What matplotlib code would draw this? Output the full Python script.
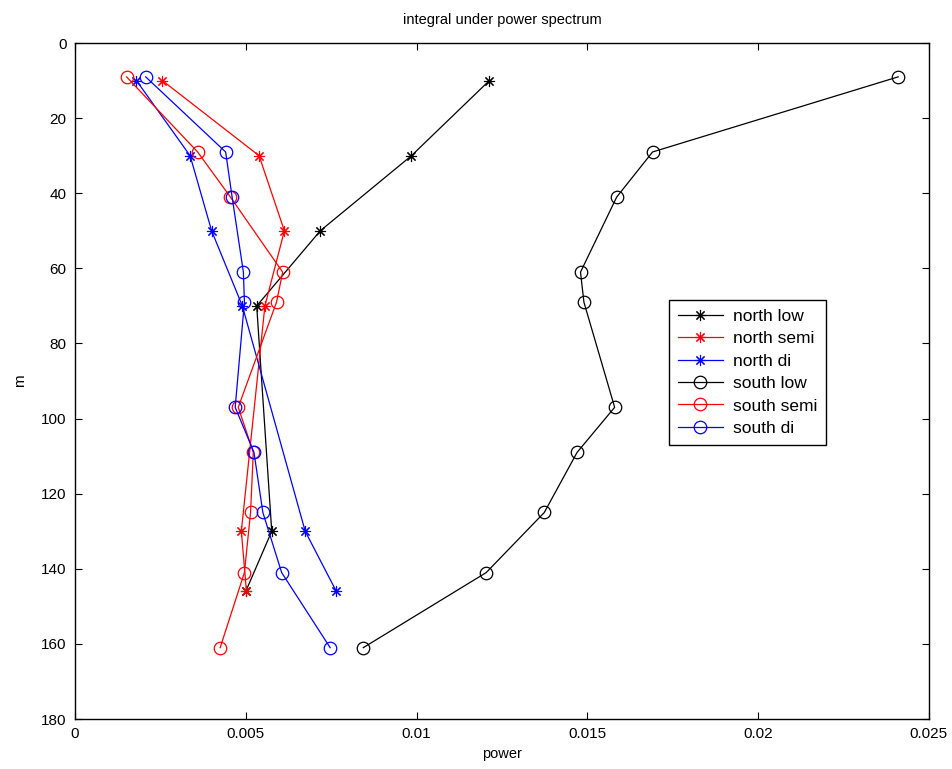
import matplotlib.pyplot as plt

plt.rcParams['font.family'] = ['Liberation Sans', 'DejaVu Sans']

# north stations
north_depth = [10, 30, 50, 70, 130, 146]
north_low = [0.01213, 0.00985, 0.00718, 0.00532, 0.00576, 0.00500]
north_semi = [0.00256, 0.00539, 0.00613, 0.00556, 0.00487, 0.00502]
north_di = [0.00180, 0.00337, 0.00400, 0.00490, 0.00674, 0.00765]

# south stations
south_depth = [9, 29, 41, 61, 69, 97, 109, 125, 141, 161]
south_low = [0.02410, 0.01691, 0.01586, 0.01480, 0.01490, 0.01580, 0.01470, 0.01374, 0.01204, 0.00844]
south_semi = [0.00151, 0.00359, 0.00455, 0.00608, 0.00590, 0.00478, 0.00522, 0.00514, 0.00496, 0.00425]
south_di = [0.00207, 0.00441, 0.00460, 0.00493, 0.00496, 0.00469, 0.00524, 0.00550, 0.00605, 0.00747]

x_ticks = [0, 0.005, 0.01, 0.015, 0.02, 0.025]
x_tick_labels = ['0', '0.005', '0.01', '0.015', '0.02', '0.025']
y_ticks = [0, 20, 40, 60, 80, 100, 120, 140, 160, 180]

star = (8, 2, 0)  # matlab style asterisk

fig = plt.figure(figsize=(9.53, 7.69), dpi=100)
ax = fig.add_axes([0.0787, 0.065, 0.896, 0.879])

ax.plot(north_low, north_depth, color='black', marker=star, ms=8, mew=0.8, lw=0.9, label='north low')
ax.plot(north_semi, north_depth, color='red', marker=star, ms=8, mew=0.8, lw=0.9, label='north semi')
ax.plot(north_di, north_depth, color='blue', marker=star, ms=8, mew=0.8, lw=0.9, label='north di')
ax.plot(south_low, south_depth, color='black', marker='o', ms=9, mfc='none', mew=0.9, lw=0.9, label='south low')
ax.plot(south_semi, south_depth, color='red', marker='o', ms=9, mfc='none', mew=0.9, lw=0.9, label='south semi')
ax.plot(south_di, south_depth, color='blue', marker='o', ms=9, mfc='none', mew=0.9, lw=0.9, label='south di')

ax.set_xlim(0, 0.025)
ax.set_ylim(180, 0)
ax.set_xticks(x_ticks)
ax.set_xticklabels(x_tick_labels)
ax.set_yticks(y_ticks)
ax.tick_params(direction='in', length=5, top=True, right=True, labelsize=11, pad=6)
for s in ax.spines.values():
    s.set_linewidth(1.0)

ax.set_title('integral under power spectrum', fontsize=10.5, pad=14)
ax.set_xlabel('power', fontsize=10.5, labelpad=4)
ax.set_ylabel('m', fontsize=11, labelpad=10)

leg = ax.legend(loc='upper left', bbox_to_anchor=(0.6956, 0.62), fontsize=12.5,
                fancybox=False, edgecolor='black', framealpha=1, borderaxespad=0,
                handlelength=2.6, handletextpad=0.6, labelspacing=0.42, borderpad=0.5)
leg.get_frame().set_linewidth(1.0)

plt.savefig('out.png')
